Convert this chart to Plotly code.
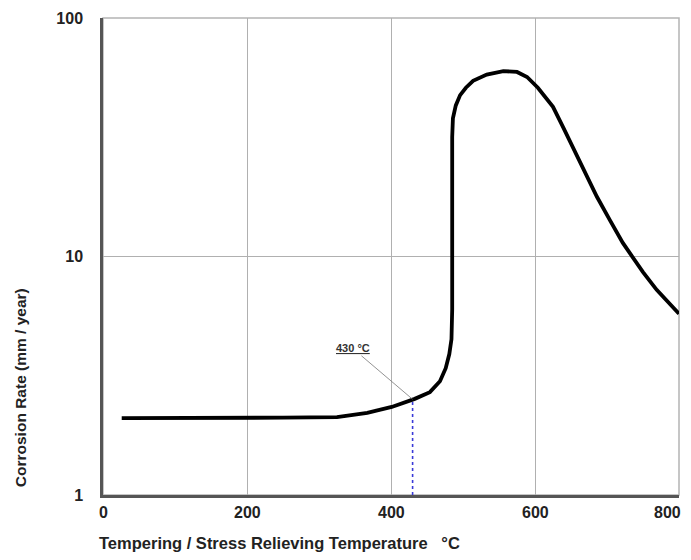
import numpy as np
import plotly.graph_objects as go

# tempering / stress relieving temperature (deg C) and corrosion rate (mm/year)
temp = [26, 100, 174, 250, 325, 367, 401, 433, 454, 468, 476, 481, 484, 485, 485,
        486, 490, 496, 504, 514, 533, 556, 575, 589, 604, 625, 639, 653, 667, 686,
        704, 722, 732, 750, 769, 800]
rate = [2.10, 2.10, 2.10, 2.11, 2.12, 2.21, 2.34, 2.53, 2.70, 3.0, 3.4, 3.9, 4.5, 6.0, 31.7,
        38, 43, 47.5, 51, 54.5, 57.9, 59.9, 59.4, 56.6, 51.0, 42.4, 34.9, 28.5, 23.1, 17.8,
        14.2, 11.4, 10.3, 8.6, 7.25, 5.75]

marker_temp = 430
marker_rate = 2.52
marker_label = "430 °C"

x_ticks = [0, 200, 400, 600, 800]
y_ticks = [1, 10, 100]

FONT = "Liberation Sans, Arial, sans-serif"

fig = go.Figure()

# blue dotted line down from the curve at 430 C
fig.add_trace(go.Scatter(
    x=[marker_temp, marker_temp], y=[1, marker_rate], mode="lines",
    line=dict(color="#3a3ad8", width=1.6, dash="dot"),
    hoverinfo="skip", showlegend=False,
))

fig.add_trace(go.Scatter(
    x=temp, y=rate, mode="lines",
    line=dict(color="black", width=3.8),
    showlegend=False,
))

# light frame on top / right
fig.add_shape(type="rect", xref="paper", yref="paper", x0=0, y0=0, x1=1, y1=1,
              line=dict(color="#b4b4b4", width=1.5), layer="below")

fig.add_annotation(
    x=marker_temp, y=np.log10(marker_rate), text="<u>" + marker_label + "</u>",
    showarrow=True, arrowhead=0, arrowwidth=0.8, arrowcolor="#777",
    ax=-60, ay=-51, font=dict(family=FONT, size=11, color="#333", weight="bold"),
)

# x tick labels as annotations so the last one stays inside the page
for t in x_ticks:
    fig.add_annotation(
        x=t, xref="x", y=-0.036, yref="paper", text=str(t), showarrow=False,
        xanchor="right" if t == x_ticks[-1] else "center", yanchor="middle",
        xshift=4 if t == x_ticks[-1] else 0,
        font=dict(family=FONT, size=16, color="#222", weight="bold"),
    )

fig.add_annotation(
    text="Corrosion Rate (mm / year)", xref="paper", yref="paper",
    x=-0.144, y=0.224, showarrow=False, textangle=-90,
    xanchor="center", yanchor="middle",
    font=dict(family=FONT, size=15.5, color="#222", weight="bold"),
)
fig.add_annotation(
    text="Tempering / Stress Relieving Temperature   °C", xref="paper", yref="paper",
    x=0.307, y=-0.10, showarrow=False, xanchor="center", yanchor="middle",
    font=dict(family=FONT, size=16.5, color="#222", weight="bold"),
)

fig.update_layout(
    width=691, height=544,
    margin=dict(l=95, r=20, t=10, b=57, autoexpand=False),
    paper_bgcolor="white", plot_bgcolor="white",
    font=dict(family=FONT, color="#222"),
    xaxis=dict(
        range=[0, 800], tickvals=x_ticks, automargin=False, showticklabels=False,
        showgrid=True, gridcolor="#b0b0b0", gridwidth=1,
        showline=True, linecolor="#555", linewidth=2.5,
        zeroline=False, ticks="",
    ),
    yaxis=dict(
        type="log", range=[0, 2], tickvals=y_ticks, automargin=False,
        ticktext=[str(v) for v in y_ticks],
        showgrid=True, gridcolor="#b0b0b0", gridwidth=1,
        showline=True, linecolor="#555", linewidth=2.5,
        zeroline=False, ticks="", ticklabelstandoff=14, ticklabeloverflow="allow",
        tickfont=dict(family=FONT, size=16, color="#222", weight="bold"),
    ),
)

fig.write_html("out.html")
